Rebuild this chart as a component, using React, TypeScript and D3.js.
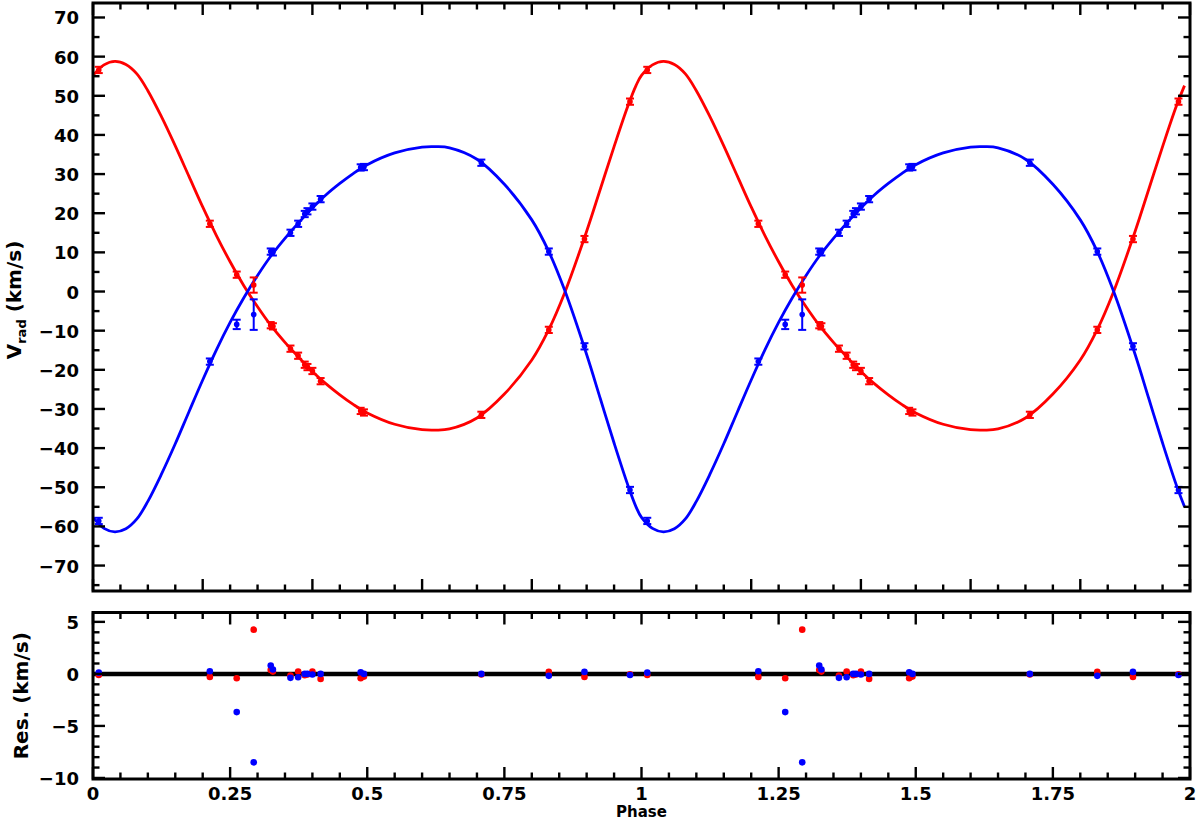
import React from 'react';
import * as d3 from 'd3';

// orbital phase of each spectrum (one cycle; drawn twice)
const phases = [0.0105, 0.213, 0.262, 0.293, 0.324, 0.328, 0.36, 0.374, 0.386, 0.391, 0.4, 0.415, 0.488, 0.494, 0.708, 0.831, 0.896, 0.979];
const rvPrimary = [56.6, 17.3, 4.3, 1.65, -8.6, -8.9, -14.6, -16.4, -18.7, -19.3, -20.3, -22.9, -30.5, -30.9, -31.5, -9.8, 13.4, 48.5];
const errPrimary = [0.8, 0.8, 0.8, 1.95, 0.8, 0.8, 0.8, 0.8, 0.8, 0.8, 0.8, 0.8, 0.8, 0.8, 0.8, 0.8, 0.8, 0.8];
const rvSecondary = [-58.6, -17.9, -8.4, -5.9, 10.2, 10.0, 15.0, 17.3, 19.8, 20.5, 21.7, 23.6, 31.7, 31.8, 32.9, 10.2, -14.0, -50.7];
const errSecondary = [0.8, 0.8, 1.2, 3.9, 0.8, 0.8, 0.8, 0.8, 0.8, 0.8, 0.8, 0.8, 0.8, 0.8, 0.8, 0.8, 0.8, 0.8];
const resPrimary = [-0.1, -0.29, -0.42, 4.25, 0.38, 0.22, -0.16, 0.22, -0.13, -0.05, 0.22, -0.48, -0.42, -0.26, -0.06, 0.19, -0.29, -0.03];
const resSecondary = [0.12, 0.26, -3.67, -8.5, 0.8, 0.42, -0.38, -0.32, 0.0, 0.0, -0.06, 0.0, 0.16, 0.0, 0.0, -0.19, 0.19, -0.1];

// fitted orbit
const modelPhase = [0, 0.02, 0.04, 0.06, 0.08, 0.1, 0.125, 0.15, 0.175, 0.2, 0.225, 0.25, 0.275, 0.3, 0.325, 0.35, 0.375, 0.4, 0.425, 0.45, 0.475, 0.5, 0.55, 0.6, 0.625, 0.65, 0.7, 0.75, 0.8, 0.83, 0.86, 0.9, 0.925, 0.95, 0.975, 0.99];
const modelPrimary = [55.2, 57.9, 58.8, 58.0, 55.6, 51.3, 44.6, 37.2, 29.4, 21.6, 14.3, 7.6, 1.5, -3.9, -8.8, -13.0, -16.8, -20.4, -23.6, -26.4, -28.9, -31.0, -33.9, -35.3, -35.4, -35.1, -32.3, -26.2, -17.5, -10.0, -0.3, 15.4, 26.2, 37.0, 47.3, 52.6];
const modelSecondary = [-57.7, -60.5, -61.4, -60.6, -58.1, -53.6, -46.6, -38.9, -30.7, -22.6, -14.9, -7.9, -1.6, 4.1, 9.2, 13.6, 17.6, 21.3, 24.7, 27.6, 30.2, 32.4, 35.4, 36.9, 37.0, 36.7, 33.8, 27.4, 18.3, 10.5, 0.3, -16.1, -27.4, -38.7, -49.4, -55.0];
const cycles = [0, 1];

const xTickLabels = ['0', '0.25', '0.5', '0.75', '1', '1.25', '1.5', '1.75', '2'];
const rvTickLabels = [70, 60, 50, 40, 30, 20, 10, 0, -10, -20, -30, -40, -50, -60, -70];
const resTickLabels = [5, 0, -5, -10];

const RED = '#ff0000';
const BLUE = '#0000ff';
const FONT = 'DejaVu Sans, Verdana, sans-serif';

const fmt = (v: number) => String(v).replace('-', '\u2212');

export default function App() {
    const left = 93, right = 1190;
    const top0 = 3, top1 = 591;
    const res0 = 612.5, res1 = 779;

    const x = d3.scaleLinear().domain([0, 2]).range([left, right]);
    const yRv = d3.scaleLinear().domain([-76.5, 73.7]).range([top1, top0]);
    const yRes = d3.scaleLinear().domain([-10.1, 5.9]).range([res1, res0]);

    const line = d3.line<[number, number]>()
        .x(d => x(d[0]))
        .y(d => yRv(d[1]))
        .curve(d3.curveCatmullRom.alpha(0.5));

    const model = (vals: number[]) =>
        cycles.flatMap(c => modelPhase.map((p, i) => [p + c, vals[i]] as [number, number]));

    const step = (n: number, s: number, a = 0) => d3.range(n).map(i => +(a + i * s).toFixed(4));
    const xMinor = step(41, 0.05);
    const topXMajor = step(11, 0.2);
    const resXMajor = step(9, 0.25);
    const rvMinor = step(30, 5, -75);
    const resMinor = step(16, 1, -10);
    const resMajor = [-10, -5, 0, 5];

    const tickStyle = {stroke: '#000', strokeWidth: 2.4};

    const xTicks = (majors: number[], y0: number, y1: number, key: string) =>
        xMinor.map(t => {
            const major = majors.some(m => Math.abs(m - t) < 1e-6);
            const len = major ? 12 : 6.5;
            return (
                <g key={key + t}>
                    <line x1={x(t)} x2={x(t)} y1={y1} y2={y1 - len} {...tickStyle} />
                    <line x1={x(t)} x2={x(t)} y1={y0} y2={y0 + len} {...tickStyle} />
                </g>
            );
        });

    const yTicks = (vals: number[], majors: number[], scale: d3.ScaleLinear<number, number>, key: string) =>
        vals.map(t => {
            const major = majors.includes(t);
            const len = major ? 12 : 6.5;
            return (
                <g key={key + t}>
                    <line x1={left} x2={left + len} y1={scale(t)} y2={scale(t)} {...tickStyle} />
                    <line x1={right} x2={right - len} y1={scale(t)} y2={scale(t)} {...tickStyle} />
                </g>
            );
        });

    const points = (rv: number[], err: number[], color: string, key: string) =>
        cycles.flatMap(c => phases.map((p, i) => {
            const cx = x(p + c);
            const yt = yRv(rv[i] + err[i]);
            const yb = yRv(rv[i] - err[i]);
            return (
                <g key={key + c + '-' + i} stroke={color} strokeWidth={2}>
                    <line x1={cx} x2={cx} y1={yt} y2={yb} />
                    <line x1={cx - 4} x2={cx + 4} y1={yt} y2={yt} />
                    <line x1={cx - 4} x2={cx + 4} y1={yb} y2={yb} />
                    <circle cx={cx} cy={yRv(rv[i])} r={2.8} fill={color} stroke="none" />
                </g>
            );
        }));

    const resDots = (res: number[], color: string, key: string) =>
        cycles.flatMap(c => phases.map((p, i) => (
            <circle key={key + c + '-' + i} cx={x(p + c)} cy={yRes(res[i])} r={3.3} fill={color} />
        )));

    return (
        <svg width={1200} height={821} style={{position: 'absolute', left: 0, top: 0, background: '#fff'}}
             fontFamily={FONT} fontWeight="bold">
            <defs>
                <clipPath id="rv-clip">
                    <rect x={left} y={top0} width={right - left} height={top1 - top0} />
                </clipPath>
            </defs>

            {/* radial velocity panel */}
            <g clipPath="url(#rv-clip)">
                <path d={line(model(modelPrimary)) || ''} fill="none" stroke={RED} strokeWidth={2.8} />
                <path d={line(model(modelSecondary)) || ''} fill="none" stroke={BLUE} strokeWidth={2.8} />
                {points(rvPrimary, errPrimary, RED, 'p')}
                {points(rvSecondary, errSecondary, BLUE, 's')}
            </g>
            {xTicks(topXMajor, top0, top1, 'tx')}
            {yTicks(rvMinor, rvTickLabels, yRv, 'ty')}
            <rect x={left} y={top0} width={right - left} height={top1 - top0} fill="none" stroke="#000" strokeWidth={3} />
            {rvTickLabels.map(v => (
                <text key={'rl' + v} x={79} y={yRv(v) + 7} textAnchor="end" fontSize={18}>{fmt(v)}</text>
            ))}
            <text transform={`translate(21,${(top0 + top1) / 2 + 3}) rotate(-90)`} textAnchor="middle" fontSize={20}>
                V<tspan fontSize={13} dy={5}>rad</tspan><tspan dy={-5}> (km/s)</tspan>
            </text>

            {/* residual panel */}
            <line x1={left} x2={right} y1={yRes(0)} y2={yRes(0)} stroke="#000" strokeWidth={4.5} />
            {resDots(resPrimary, RED, 'rp')}
            {resDots(resSecondary, BLUE, 'rs')}
            {xTicks(resXMajor, res0, res1, 'rx')}
            {yTicks(resMinor, resMajor, yRes, 'ry')}
            <rect x={left} y={res0} width={right - left} height={res1 - res0} fill="none" stroke="#000" strokeWidth={3} />
            {resTickLabels.map(v => (
                <text key={'sl' + v} x={79} y={yRes(v) + 7} textAnchor="end" fontSize={18}>{fmt(v)}</text>
            ))}
            <text transform={`translate(28,${(res0 + res1) / 2}) rotate(-90)`} textAnchor="middle" fontSize={20}>
                Res. (km/s)
            </text>

            {xTickLabels.map((s, i) => (
                <text key={'xl' + s} x={x(resXMajor[i])} y={799.5} textAnchor="middle" fontSize={18}>{s}</text>
            ))}
            <text x={x(1)} y={817} textAnchor="middle" fontSize={15}>Phase</text>
        </svg>
    );
}
